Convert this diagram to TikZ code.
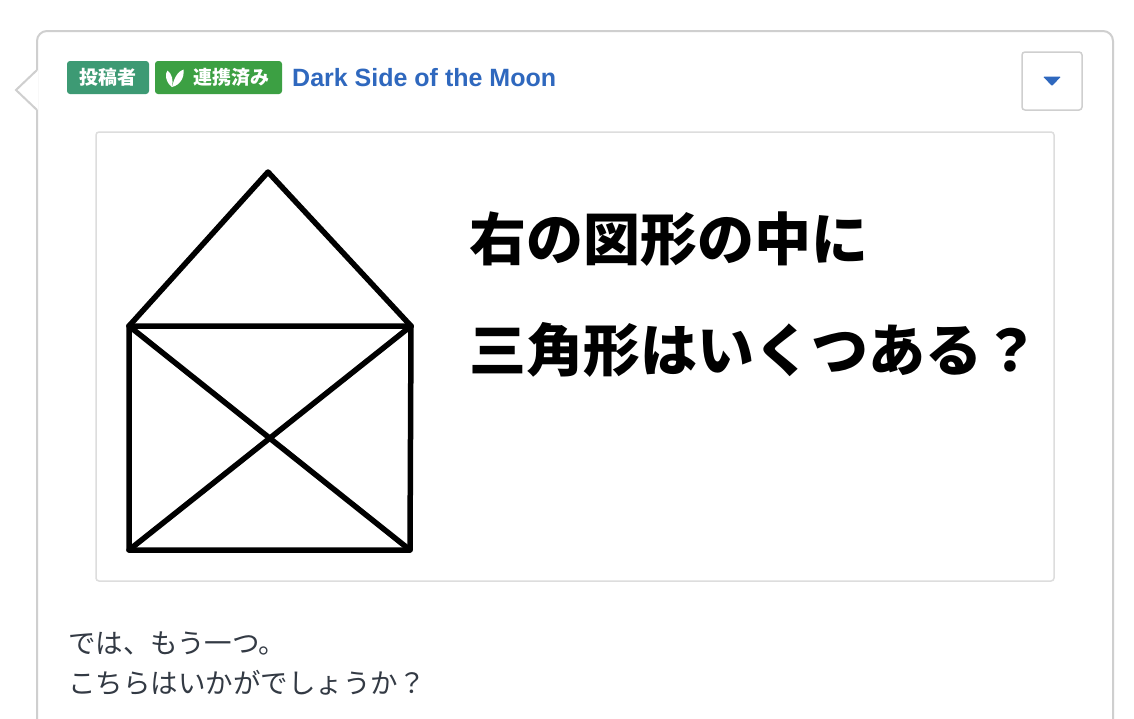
\documentclass[tikz,border=0pt]{standalone}
\usepackage{fontspec}
\usetikzlibrary{calc}
\setmainfont{Liberation Sans}
\newfontfamily\cjk{Noto Sans CJK JP}
\definecolor{cardline}{HTML}{CFCFCF}
\definecolor{boxline}{HTML}{DDDDDD}
\definecolor{badgeA}{HTML}{3D9A74}
\definecolor{badgeB}{HTML}{3CA043}
\definecolor{linkblue}{HTML}{2F68BE}
\definecolor{bodytext}{HTML}{333A44}
\begin{document}
\begin{tikzpicture}[x=1pt,y=-1pt,
  badge/.style={rounded corners=3pt, minimum height=33pt, inner sep=0pt, text=white, font=\cjk\bfseries\fontsize{19}{22}\selectfont},
  houseline/.style={line width=5.5pt, line cap=round, line join=round, black}]
\useasboundingbox (0,0) rectangle (1134,718);
\fill[white] (0,0) rectangle (1134,718);
% card
\draw[cardline, line width=2pt, rounded corners=10pt, fill=white]
  (37,740) -- (37,31) -- (1113,31) -- (1113,740);
% speech arrow
\fill[white] (38,70) -- (16,90) -- (38,110) -- cycle;
\draw[cardline, line width=2pt, line join=miter] (37,70) -- (16,90) -- (37,110);
% badges
\node[badge, fill=badgeA, minimum width=82pt] (b1) at (108,77.5) {投稿者};
\node[badge, fill=badgeB, minimum width=127pt] (b2) at (218.5,77.5) {};
\node[anchor=center, inner sep=0pt, text=white, font=\cjk\bfseries\fontsize{19}{22}\selectfont] (b2t) at (231,77.5) {連携済み};
\fill[white] (172,87) .. controls (165,82) and (165,73) .. (167.5,70.5) .. controls (172,74) and (173.5,80) .. (172,87);
\fill[white] (172,87) .. controls (174,78) and (178,71) .. (183.5,69.5) .. controls (184.5,78) and (180,85) .. (172,87);
\node[anchor=base west, inner sep=0pt, text=linkblue, font=\bfseries\fontsize{25}{28}\selectfont] (name) at (292,86.5) {Dark Side of the Moon};
% dropdown button
\node[draw=cardline, line width=1.5pt, rounded corners=3pt, minimum width=60pt, minimum height=58pt, inner sep=0pt] (menu) at (1052,81) {};
\fill[linkblue, rounded corners=1pt] ($(menu.center)+(-9,-4.5)$) -- ($(menu.center)+(9,-4.5)$) -- ($(menu.center)+(0,5)$) -- cycle;
% image box
\node[draw=boxline, line width=1.5pt, rounded corners=3pt, minimum width=958pt, minimum height=449pt, inner sep=0pt] (img) at (575,356.5) {};
% house
\coordinate (apex) at (268,172);
\coordinate (tl) at (129,326);
\coordinate (tr) at (411,326);
\coordinate (bl) at (129,550);
\coordinate (br) at (410,550);
\draw[houseline] (tl) -- (apex) -- (tr);
\draw[houseline] (tl) -- (tr) -- (br) -- (bl) -- cycle;
\draw[houseline] (tl) -- (br);
\draw[houseline] (tr) -- (bl);
% question text
\node[anchor=base west, inner sep=0pt, font=\cjk\bfseries\fontsize{57}{60}\selectfont] (q1) at (469,260) {右の図形の中に};
\node[anchor=base west, inner sep=0pt, font=\cjk\bfseries\fontsize{57}{60}\selectfont] (q2) at (469,371) {三角形はいくつある？};
% body text
\node[anchor=base west, inner sep=0pt, text=bodytext, font=\cjk\fontsize{27.5}{30}\selectfont] (t1) at (68,653) {では、もう一つ。};
\node[anchor=base west, inner sep=0pt, text=bodytext, font=\cjk\fontsize{27.5}{30}\selectfont] (t2) at (68,693) {こちらはいかがでしょうか？};
\end{tikzpicture}
\end{document}
